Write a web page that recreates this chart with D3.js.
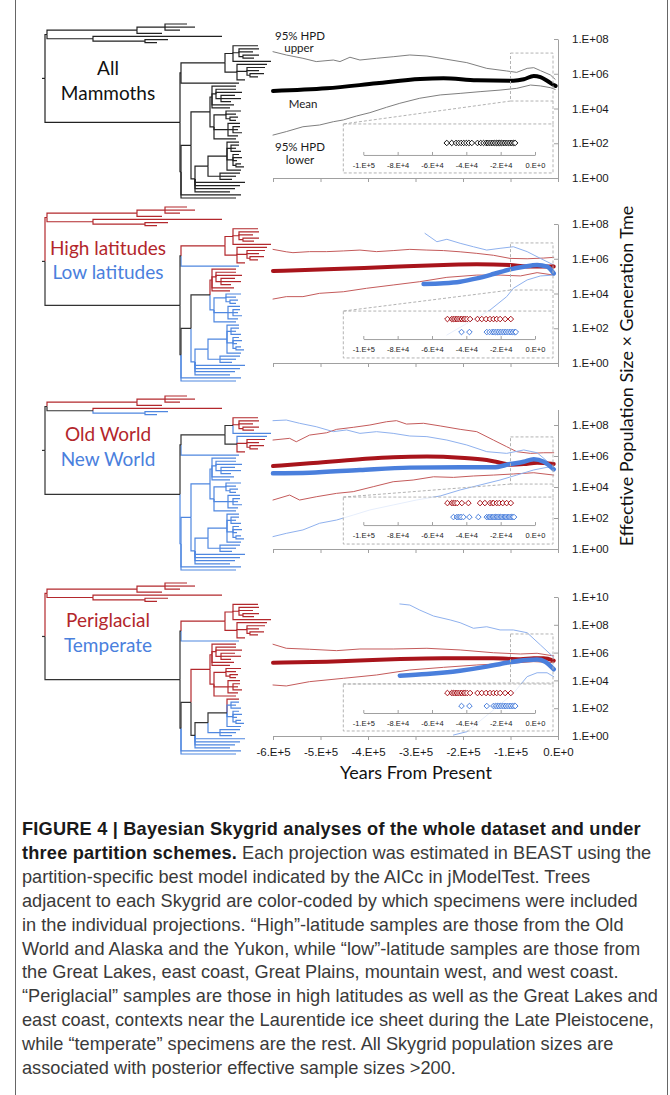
<!DOCTYPE html>
<html>
<head>
<meta charset="utf-8">
<script src="https://cdn.jsdelivr.net/npm/d3@7"></script>
<style>
  body { margin: 0; background: #fff; }
  svg { display: block; }
</style>
</head>
<body>
<div id="chart"></div>
<script>
// ---------- data ----------
// time in thousands of years before present, value = log10(Ne x generation time)
const allMean  = [[-600,5.01],[-487,5.16],[-382,5.45],[-290,5.70],[-241,5.74],[-171,5.62],[-94,5.60],[-72,5.68],[-51,5.87],[-37,5.80],[-23,5.60],[-9,5.35],[-5,5.30]];
const allUpper = [[-600,7.27],[-572,7.08],[-537,6.89],[-509,6.70],[-473,6.79],[-459,6.70],[-438,6.95],[-417,6.79],[-382,6.89],[-347,6.98],[-312,7.08],[-276,7.02],[-234,6.83],[-192,6.64],[-150,6.31],[-108,6.16],[-87,6.08],[-65,6.31],[-51,6.35],[-37,6.18],[-16,5.93],[-6,5.68]];
const allLower = [[-600,2.47],[-572,2.67],[-537,2.95],[-502,3.05],[-473,3.24],[-452,3.34],[-424,3.57],[-396,3.76],[-361,4.07],[-333,4.30],[-291,4.59],[-248,4.78],[-206,4.87],[-164,4.97],[-122,5.06],[-87,5.16],[-58,5.35],[-37,5.30],[-16,5.20],[-6,5.10]];

const highMean  = [[-600,5.30],[-487,5.39],[-347,5.54],[-241,5.64],[-171,5.68],[-101,5.64],[-65,5.56],[-30,5.56],[-9,5.56]];
const highUpper = [[-600,6.54],[-572,6.40],[-558,6.35],[-523,6.41],[-487,6.41],[-452,6.45],[-417,6.50],[-382,6.41],[-347,6.47],[-312,6.54],[-276,6.50],[-241,6.47],[-206,6.40],[-171,6.31],[-136,6.20],[-101,6.02],[-65,6.00],[-30,6.04],[-9,6.08]];
const highLower = [[-600,3.68],[-572,3.82],[-537,3.82],[-502,4.01],[-452,4.10],[-403,4.30],[-347,4.49],[-291,4.68],[-234,4.93],[-171,5.06],[-122,5.06],[-79,5.01],[-44,5.20],[-9,5.06]];
const lowMean   = [[-283,4.55],[-241,4.59],[-206,4.68],[-171,4.87],[-136,5.12],[-101,5.39],[-72,5.54],[-44,5.64],[-23,5.54],[-9,5.16]];
const lowUpper  = [[-280,7.46],[-255,6.98],[-234,7.12],[-206,6.89],[-178,6.69],[-150,6.50],[-122,6.60],[-94,6.69],[-65,6.41],[-37,6.02],[-9,5.64]];
const lowLower  = [[-234,1.61],[-143,3.05],[-108,3.82],[-94,4.30],[-65,4.78],[-37,5.01],[-9,5.06]];

const oldMean  = [[-600,5.35],[-523,5.53],[-417,5.79],[-347,5.92],[-276,5.96],[-206,5.89],[-150,5.74],[-122,5.57],[-101,5.44],[-72,5.48],[-44,5.57],[-9,5.48]];
const oldUpper = [[-600,7.03],[-565,7.14],[-551,6.92],[-523,7.35],[-487,7.50],[-466,7.72],[-431,7.85],[-396,8.00],[-361,8.21],[-340,8.28],[-319,8.06],[-283,8.11],[-248,7.94],[-206,7.72],[-171,7.57],[-136,7.03],[-108,6.60],[-87,6.28],[-58,6.17],[-30,6.21],[-9,6.21]];
const oldLower = [[-600,3.16],[-565,3.48],[-544,3.16],[-509,3.37],[-466,3.59],[-431,3.70],[-389,4.02],[-347,4.34],[-305,4.45],[-262,4.66],[-220,4.62],[-178,4.71],[-136,4.77],[-94,4.84],[-51,4.92],[-9,4.77]];
const newMean  = [[-600,4.88],[-523,4.92],[-417,5.10],[-312,5.25],[-206,5.27],[-136,5.27],[-101,5.48],[-72,5.63],[-51,5.79],[-30,5.63],[-9,5.14]];
const newUpper = [[-600,8.28],[-572,8.32],[-544,8.11],[-509,7.89],[-473,7.57],[-445,7.68],[-417,7.46],[-382,7.57],[-347,7.46],[-312,7.29],[-276,7.25],[-234,7.03],[-192,6.71],[-150,6.28],[-108,6.17],[-72,6.39],[-44,6.21],[-9,5.31]];
const newLower = [[-600,0.80],[-572,1.01],[-537,1.23],[-502,1.66],[-466,1.87],[-431,2.19],[-396,2.52],[-347,2.84],[-298,3.16],[-248,3.42],[-206,3.81],[-164,4.13],[-122,4.45],[-87,4.77],[-51,5.10],[-23,5.27],[-9,5.20]];

const periMean  = [[-600,5.27],[-487,5.35],[-347,5.52],[-241,5.59],[-136,5.59],[-79,5.52],[-51,5.59],[-30,5.59],[-9,5.42]];
const periUpper = [[-600,6.60],[-572,6.31],[-523,6.24],[-466,6.14],[-417,6.26],[-347,6.26],[-276,6.31],[-206,6.19],[-136,5.99],[-79,5.90],[-44,5.95],[-9,5.76]];
const periLower = [[-600,3.67],[-572,3.60],[-523,3.91],[-452,4.15],[-382,4.39],[-312,4.75],[-241,4.94],[-171,5.11],[-101,5.23],[-51,5.35],[-9,5.28]];
const tempMean  = [[-333,4.34],[-276,4.46],[-206,4.70],[-150,4.99],[-108,5.27],[-65,5.47],[-44,5.50],[-27,5.35],[-9,4.80]];
const tempUpper = [[-333,9.50],[-312,9.42],[-291,9.06],[-262,8.63],[-227,8.35],[-206,8.15],[-178,7.75],[-150,7.86],[-122,7.63],[-94,7.63],[-65,7.43],[-37,6.55],[-9,5.66]];
const tempLower = [[-220,0.07],[-192,0.31],[-136,1.87],[-94,3.07],[-65,4.27],[-44,4.55],[-23,4.55],[-9,4.27]];

// specimen dates (thousands of years BP) shown in the insets
const allDates  = [-51.4,-48.5,-46,-44.5,-43,-41.5,-40,-38.5,-36.8,-33.5,-31.6,-30,-28.5,-27.5,-26.5,-25.5,-24.5,-23.5,-22.5,-21.5,-20.5,-19.5,-18.5,-17.5,-16.5,-15.5,-14.5,-13.5,-12.5,-11.6];
const highDates = [-51,-48.5,-47.5,-46.5,-45.5,-44.6,-43.5,-42.6,-41.5,-40.7,-39.5,-37.8,-33.5,-31,-28.5,-26.2,-24.2,-22.3,-20.3,-17.4,-14.1];
const lowDates  = [-42.8,-38.2,-28.1,-26.5,-25,-24,-23,-22,-21,-20,-19,-18,-17,-16,-15,-14,-13,-12,-11.2];
const oldDates  = [-51,-48.5,-47.5,-46.5,-45.3,-42.6,-38.8,-32,-29.2,-26.2,-24.8,-24.2,-22.3,-20.8,-18.8,-16.5,-14.1];
const newDates  = [-47.5,-45.5,-44.6,-43.6,-43,-41.7,-38.2,-33,-28.1,-27,-26.2,-25.4,-24.6,-23.8,-23.1,-22.3,-21.5,-20.8,-20,-19.2,-18.4,-17.6,-16.9,-16.1,-15.3,-14.5,-13.8,-13,-12.2];
const periDates = [-51,-48.5,-47.5,-46.5,-45.5,-44.6,-43.5,-42.6,-41.5,-40.7,-39.5,-37.8,-33.5,-31,-28.5,-26.2,-24.2,-22.3,-20.3,-17.4,-14.1];
const tempDates = [-42.8,-38.2,-28.1,-24.2,-23,-22,-21,-20,-19,-18,-17,-16,-15,-14,-13,-12,-11.5];

const xTicks     = [-600000,-500000,-400000,-300000,-200000,-100000,0];
const insetTicks = [-100000,-80000,-60000,-40000,-20000,0];
const yTicks8    = [1,1e2,1e4,1e6,1e8];
const yTicks10   = [1,1e2,1e4,1e6,1e8,1e10];

// phylogeny (branch lengths in drawing units); leaf label = latitude/world/habitat code
const treeNewick =
  "(((((HOP:22,HOP:30,HOP:15):28,HOP:25):90,(HOP:129,(HNP:23,HNP:12):52):46):2," +
  "((((HOP:25,(HOP:20,HOP:14,(HOP:16,HOP:11):4):6,HNP:38):8,(HNP:30,(HOP:18,HOP:12,(HOP:14,HOP:8):3):10,HOP:8):12):44,LNT:58):1," +
  "((((HNP:24,(HNP:20,HNP:26,(HNP:14,HNP:20,HNP:10):5):4,HNP:22,HNP:18):2," +
  "((LNP:15,LNP:10,(LNP:8,LNP:6):4):12,(LNP:12,(LNP:7,LNP:5,LNP:9):5,LNP:10):14,LNP:22):4):19," +
  "(((LNP:12,(LNT:8,LNT:5,LNT:10):4,(LNT:6,LNT:9,LNT:4,(LNT:5,LNT:8):3):6,LNT:14):19,(LNT:20,LNT:16,LNT:12):12):13," +
  "LNT:50,LNT:45,LNT:40,LNT:35):4):10,LNT:60,LNT:55):1):135):3);";

const panelLabels = [
  ["All", "Mammoths"],
  ["High latitudes", "Low latitudes"],
  ["Old World", "New World"],
  ["Periglacial", "Temperate"]
];

const captionLines = [
  [["FIGURE 4 | Bayesian Skygrid analyses of the whole dataset and under", true]],
  [["three partition schemes.", true], [" Each projection was estimated in BEAST using the", false]],
  [["partition-specific best model indicated by the AICc in jModelTest. Trees", false]],
  [["adjacent to each Skygrid are color-coded by which specimens were included", false]],
  [["in the individual projections. \u201cHigh\u201d-latitude samples are those from the Old", false]],
  [["World and Alaska and the Yukon, while \u201clow\u201d-latitude samples are those from", false]],
  [["the Great Lakes, east coast, Great Plains, mountain west, and west coast.", false]],
  [["\u201cPeriglacial\u201d samples are those in high latitudes as well as the Great Lakes and", false]],
  [["east coast, contexts near the Laurentide ice sheet during the Late Pleistocene,", false]],
  [["while \u201ctemperate\u201d specimens are the rest. All Skygrid population sizes are", false]],
  [["associated with posterior effective sample sizes >200.", false]]
];

// ---------- colours ----------
const RED = "#a8141b", RED_THIN = "#c45b5b", RED_TREE = "#b3282d", RED_TXT = "#b3262b";
const BLUE = "#4a7fdc", BLUE_THIN = "#8fb1ee", BLUE_TREE = "#4f87e0", BLUE_TXT = "#4a80dd";
const AX = "#a0a0a0";

// ---------- panel layout ----------
const panels = [
  { yMax: 1e8,  ticks: yTicks8,  yRange: [178, 39],  treeY: [24, 198],  code: -1,
    series: [[allUpper, "#7f7f7f", 1], [allLower, "#7f7f7f", 1], [allMean, "#000", 4]],
    dates: [[allDates, "#111"]], rows: [19], axisOff: 31,
    inset: [3.11, 0.29], zoom: [7.19, 4.43] },
  { yMax: 1e8,  ticks: yTicks8,  yRange: [363, 224], treeY: [207, 381], code: 0,
    series: [[highUpper, RED_THIN, 1], [highLower, RED_THIN, 1], [lowUpper, BLUE_THIN, 1], [lowLower, BLUE_THIN, 1], [highMean, RED, 4], [lowMean, BLUE, 4.5]],
    dates: [[highDates, RED], [lowDates, BLUE]], rows: [8, 21], axisOff: 28,
    inset: [2.99, 0.29], zoom: [6.91, 4.20] },
  { yMax: 1e9,  ticks: yTicks8,  yRange: [549, 409.5], treeY: [396, 570], code: 1,
    series: [[oldUpper, RED_THIN, 1], [oldLower, RED_THIN, 1], [newUpper, BLUE_THIN, 1], [newLower, BLUE_THIN, 1], [oldMean, RED, 4], [newMean, BLUE, 4.5]],
    dates: [[oldDates, RED], [newDates, BLUE]], rows: [6, 20], axisOff: 28,
    inset: [3.35, 0.32], zoom: [7.23, 4.19] },
  { yMax: 1e10, ticks: yTicks10, yRange: [736, 597], treeY: [583, 754], code: 2,
    series: [[periUpper, RED_THIN, 1], [periLower, RED_THIN, 1], [tempUpper, BLUE_THIN, 1], [tempLower, BLUE_THIN, 1], [periMean, RED, 4], [tempMean, BLUE, 4.5]],
    dates: [[periDates, RED], [tempDates, BLUE]], rows: [9, 22], axisOff: 29,
    inset: [3.74, 0.36], zoom: [7.34, 3.81] }
];

const W = 670, H = 1095;
const svg = d3.select("#chart").append("svg").attr("width", W).attr("height", H)
  .style("font-family", "Lato, 'Open Sans', sans-serif");

// frame
svg.append("line").attr("x1", 15.5).attr("x2", 15.5).attr("y1", 0).attr("y2", H).attr("stroke", "#666");
svg.append("line").attr("x1", 667.5).attr("x2", 667.5).attr("y1", 0).attr("y2", H).attr("stroke", "#666");

// number format used by Excel-style axes
function sci(v, pad) {
  if (v === 0) return pad ? "0.E+00" : "0.E+0";
  const e = Math.floor(Math.log10(Math.abs(v)) + 1e-9);
  const m = Math.round(v / Math.pow(10, e));
  return `${m}.E+${pad ? String(e).padStart(2, "0") : e}`;
}

// ---------- tree ----------
function parseNewick(s) {
  let i = 0;
  function node() {
    const n = { children: [], name: "", length: 0 };
    if (s[i] === "(") {
      i++;
      n.children.push(node());
      while (s[i] === ",") { i++; n.children.push(node()); }
      i++;
    }
    while (i < s.length && !",():;".includes(s[i])) n.name += s[i++];
    if (s[i] === ":") {
      i++;
      let num = "";
      while (i < s.length && !",();".includes(s[i])) num += s[i++];
      n.length = +num;
    }
    return n;
  }
  return node();
}

const treeData = parseNewick(treeNewick);
const xTree = d3.scaleLinear().domain([0, 230]).range([42, 272]);

function drawTree(g, y0, y1, code) {
  const root = d3.hierarchy(treeData, d => d.children.length ? d.children : null);
  root.eachBefore(n => { n.depthLen = (n.parent ? n.parent.depthLen : 0) + n.data.length; });
  const leaves = root.leaves();
  const yLeaf = d3.scaleLinear().domain([0, leaves.length - 1]).range([y0, y1]);
  leaves.forEach((l, i) => { l.py = yLeaf(i); });
  root.eachAfter(n => {
    if (n.children) n.py = (n.children[0].py + n.children[n.children.length - 1].py) / 2;
    const groups = new Set(n.leaves().map(l => code < 0 ? "x" : l.data.name[code]));
    if (code < 0) n.col = "#222";
    else if (groups.size > 1) n.col = "#333";
    else n.col = "HOP".includes([...groups][0]) ? RED_TREE : BLUE_TREE;
  });
  const nodes = root.descendants().filter(n => n.parent);
  nodes.sort((a, b) => (a.col === "#333") - (b.col === "#333"));
  g.selectAll("path.branch").data(nodes).join("path")
    .attr("class", "branch")
    .attr("fill", "none")
    .attr("stroke", d => d.col)
    .attr("stroke-width", 1.2)
    .attr("d", d => `M${xTree(d.parent.depthLen)},${d.parent.py}V${d.py}H${xTree(d.depthLen)}`);
  // root stem
  g.append("path").attr("fill", "none").attr("stroke", root.col).attr("stroke-width", 1.2)
    .attr("d", `M${xTree(0)},${root.py}H${xTree(root.depthLen)}`);
}

// ---------- panels ----------
const x = d3.scaleLinear().domain([-600000, 0]).range([273, 558]);
const xi = d3.scaleLinear().domain([-100000, 0]);

panels.forEach((p, pi) => {
  const g = svg.append("g");
  const y = d3.scaleLog().domain([1, p.yMax]).range(p.yRange);
  const yv = v => y(Math.pow(10, v));

  drawTree(g.append("g"), p.treeY[0], p.treeY[1], p.code);

  // x axis (bottom)
  const xa = g.append("g").attr("transform", `translate(0,${p.yRange[0]})`)
    .call(d3.axisBottom(x).tickValues(xTicks).tickSize(4).tickSizeOuter(0).tickPadding(8)
      .tickFormat(pi === 3 ? d => sci(d, false) : ""));
  // y axis (right)
  const ya = g.append("g").attr("transform", `translate(558,0)`)
    .call(d3.axisRight(y).tickValues(p.ticks).tickSizeInner(-4).tickSizeOuter(0).tickPadding(14)
      .tickFormat(d => sci(d, true)));
  [xa, ya].forEach(a => {
    a.select(".domain").attr("stroke", AX);
    a.selectAll(".tick line").attr("stroke", AX);
    a.selectAll("text").attr("fill", "#1a1a1a").style("font-size", "11.5px");
  });

  // curves
  const line = d3.line().x(d => x(d[0] * 1000)).y(d => yv(d[1]));
  p.series.forEach(([data, col, w]) => {
    g.append("path").datum(data)
      .attr("fill", "none").attr("stroke", col).attr("stroke-width", w)
      .attr("stroke-linejoin", "round").attr("stroke-linecap", "round")
      .attr("d", line.curve(w > 2 ? d3.curveMonotoneX : d3.curveLinear));
  });

  // zoom rectangle and inset
  const zx0 = x(-100000), ix0 = x(-452000), ix1 = x(-10500);
  const iy0 = yv(p.inset[0]), iy1 = yv(p.inset[1]);
  const zy0 = yv(p.zoom[0]), zy1 = yv(p.zoom[1]);
  const dash = g.append("g").attr("fill", "none").attr("stroke", "#b3b3b3").attr("stroke-dasharray", "3,2");
  g.insert("rect", () => dash.node())
    .attr("x", ix0).attr("y", iy0).attr("width", ix1 - ix0).attr("height", iy1 - iy0)
    .attr("fill", "#fff").attr("fill-opacity", 0.78);
  dash.append("rect").attr("x", zx0).attr("y", zy0).attr("width", ix1 - zx0).attr("height", zy1 - zy0);
  dash.append("rect").attr("x", ix0).attr("y", iy0).attr("width", ix1 - ix0).attr("height", iy1 - iy0);
  dash.append("line").attr("x1", zx0).attr("y1", zy1).attr("x2", ix0).attr("y2", iy0);
  dash.append("line").attr("x1", ix1).attr("y1", zy1).attr("x2", ix1).attr("y2", iy0);

  xi.range([ix0 + 20, ix1 - 18]);
  const ia = g.append("g").attr("transform", `translate(0,${iy0 + p.axisOff})`)
    .call(d3.axisBottom(xi).tickValues(insetTicks).tickSizeInner(-3).tickSizeOuter(0).tickPadding(8)
      .tickFormat(d => sci(d, false)));
  ia.select(".domain").attr("stroke", AX);
  ia.selectAll(".tick line").attr("stroke", AX);
  ia.selectAll("text").attr("fill", "#1a1a1a").style("font-size", "7.5px");

  const sym = d3.symbol().type(d3.symbolDiamond2).size(20);
  p.dates.forEach(([dates, col], ri) => {
    g.append("g").selectAll("path").data(dates).join("path")
      .attr("d", sym)
      .attr("transform", d => `translate(${xi(d * 1000)},${iy0 + p.rows[ri]})`)
      .attr("fill", "#fff").attr("stroke", col).attr("stroke-width", 1);
  });

  // tree labels
  const lab = panelLabels[pi];
  const ly = [[75, 100], [255, 279], [441, 466], [627, 652]][pi];
  const lcol = pi === 0 ? ["#111", "#111"] : [RED_TXT, BLUE_TXT];
  lab.forEach((t, k) => {
    g.append("text").attr("x", 108).attr("y", ly[k]).attr("text-anchor", "middle")
      .attr("fill", lcol[k]).style("font-size", "19px").text(t);
  });
});

// HPD labels on first panel
[["95% HPD", 300, 40], ["upper", 299, 52], ["Mean", 303, 108], ["95% HPD", 300, 151], ["lower", 300, 164]]
  .forEach(([t, lx, ly]) => {
    svg.append("text").attr("x", lx).attr("y", ly).attr("text-anchor", "middle")
      .attr("fill", "#1a1a1a").style("font-size", "11.5px").text(t);
  });

// axis titles
svg.append("text").attr("x", 416).attr("y", 779).attr("text-anchor", "middle")
  .attr("fill", "#111").style("font-size", "18px").text("Years From Present");
svg.append("text").attr("transform", "translate(633,376) rotate(-90)").attr("text-anchor", "middle")
  .attr("fill", "#111").style("font-size", "18px").text("Effective Population Size \u00d7 Generation Tme");

// caption
const cap = svg.append("g").style("font-family", "'Liberation Sans', Arial, sans-serif").style("font-size", "18.2px");
captionLines.forEach((segs, i) => {
  const t = cap.append("text").attr("x", 22).attr("y", 835 + i * 23.9);
  segs.forEach(([s, b]) => {
    t.append("tspan").text(s)
      .attr("fill", b ? "#1a1a1a" : "#3a3a3a")
      .style("font-weight", b ? 700 : 400)
      .style("letter-spacing", b ? "0.2px" : null);
  });
});
</script>
</body>
</html>
